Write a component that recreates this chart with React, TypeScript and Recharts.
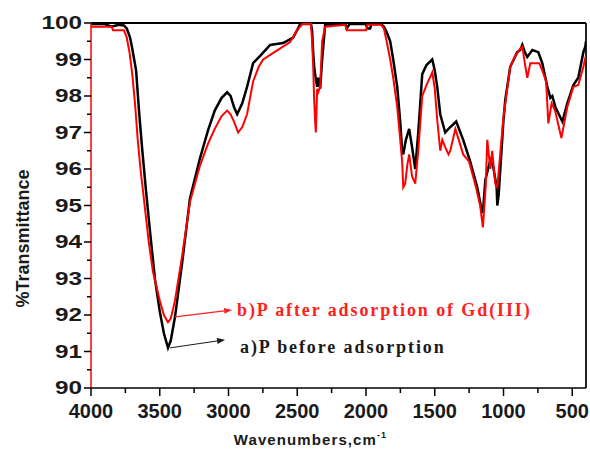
import React from "react";
import { LineChart, Line, XAxis, YAxis, ReferenceLine } from "recharts";

// ---- data ----
const blackWn = [
  4000, 3900, 3850, 3800, 3760, 3740, 3716, 3700, 3672, 3651,
  3629, 3600, 3571, 3534, 3500, 3470, 3440, 3420, 3389, 3338,
  3280, 3207, 3148, 3100, 3050, 3010, 2985, 2960, 2937, 2900,
  2865, 2821, 2770, 2697, 2603, 2530, 2493, 2479, 2400, 2392,
  2384, 2377, 2370, 2362, 2355, 2348, 2340, 2333, 2319, 2297,
  2150, 2140, 2120, 2000, 1990, 1970, 1960, 1890, 1870, 1850,
  1824, 1802, 1773, 1751, 1737, 1729, 1710, 1686, 1665, 1642,
  1620, 1591, 1560, 1518, 1500, 1482, 1460, 1424, 1400, 1344,
  1293, 1242, 1191, 1160, 1150, 1132, 1096, 1074, 1050, 1045,
  1035, 1001, 987, 951, 900, 878, 863, 845, 827, 790,
  747, 718, 681, 659, 645, 623, 572, 536, 492, 456,
  419, 405, 400,
];
const blackT = [
  99.97, 99.97, 99.9, 99.95, 99.93, 99.85, 99.6, 99.3, 98.7, 97.6,
  96.6, 95.4, 94.3, 92.96, 92.1, 91.5, 91.1, 91.3, 91.95, 93.4,
  95.2, 96.3, 97.07, 97.6, 97.95, 98.1, 98.0, 97.7, 97.5, 97.8,
  98.25, 98.9, 99.1, 99.4, 99.45, 99.6, 99.86, 99.97, 99.97, 99.8,
  99.2, 98.8, 98.6, 98.4, 98.25, 98.5, 98.4, 98.2, 99.0, 99.95,
  99.97, 99.85, 99.97, 99.97, 99.85, 99.85, 99.97, 99.97, 99.9, 99.75,
  99.5, 99.0, 98.25, 97.3, 96.5, 96.4, 96.8, 97.1, 96.6, 96.0,
  97.0, 98.6, 98.85, 99.0, 98.7, 98.25, 97.5, 97.0, 97.1, 97.3,
  96.8, 96.2, 95.5, 94.9, 94.8, 95.7, 96.25, 96.05, 95.5, 95.0,
  95.3, 97.3, 97.9, 98.8, 99.2, 99.26, 99.4, 99.2, 99.07, 99.26,
  99.2, 98.9, 98.25, 97.95, 98.0, 97.7, 97.3, 97.8, 98.3, 98.5,
  99.2, 99.35, 99.5,
];

const redWn = [
  4000, 3850, 3840, 3760, 3740, 3720, 3700, 3680, 3660, 3640,
  3610, 3580, 3550, 3500, 3470, 3440, 3420, 3389, 3338, 3280,
  3207, 3148, 3100, 3050, 3010, 2985, 2960, 2930, 2900, 2865,
  2821, 2780, 2748, 2646, 2552, 2501, 2464, 2400, 2392, 2384,
  2377, 2370, 2365, 2360, 2355, 2348, 2333, 2319, 2297, 2150,
  2140, 2000, 1990, 1890, 1870, 1850, 1824, 1802, 1773, 1751,
  1737, 1729, 1715, 1700, 1686, 1665, 1642, 1620, 1591, 1560,
  1518, 1500, 1482, 1460, 1445, 1424, 1400, 1387, 1350, 1293,
  1250, 1200, 1170, 1150, 1130, 1118, 1096, 1082, 1060, 1045,
  1038, 1001, 951, 914, 878, 863, 845, 827, 805, 740,
  718, 690, 674, 650, 625, 579, 536, 492, 456, 419,
  405, 400,
];
const redT = [
  99.9, 99.9, 99.8, 99.8, 99.6, 99.2, 98.6, 97.8, 96.8, 96.0,
  95.0, 94.0, 93.2, 92.4, 92.0, 91.8, 91.9, 92.4, 93.6, 95.1,
  96.1, 96.7, 97.1, 97.45, 97.6, 97.5, 97.3, 97.0, 97.15, 97.5,
  98.4, 98.8, 99.0, 99.25, 99.48, 99.8, 99.97, 99.97, 99.5, 98.8,
  97.9, 97.3, 97.0, 97.6, 98.2, 98.1, 98.25, 99.5, 99.9, 99.95,
  99.8, 99.8, 99.95, 99.95, 99.85, 99.5, 99.0, 98.5, 97.7, 96.8,
  96.2, 95.5, 95.6, 96.1, 96.4, 95.8, 95.6, 96.5, 98.0, 98.3,
  98.65, 98.2, 97.35, 96.5, 96.8, 96.6, 96.4, 96.5, 97.1, 96.4,
  96.2, 95.5, 95.0, 94.4, 95.5, 96.8, 96.0, 96.5, 95.6, 95.5,
  95.8, 97.4, 98.8, 99.1, 99.3, 99.35, 98.9, 98.5, 98.9, 98.9,
  98.7, 98.4, 97.25, 97.8, 97.6, 96.85, 97.7, 98.25, 98.3, 98.8,
  99.04, 99.1,
];

const xMajorTicks = [4000, 3500, 3000, 2500, 2000, 1500, 1000, 500];
const xAllTicks = [4000, 3750, 3500, 3250, 3000, 2750, 2500, 2250, 2000, 1750, 1500, 1250, 1000, 750, 500];
const yMajorTicks = [90, 91, 92, 93, 94, 95, 96, 97, 98, 99, 100];
const yAllTicks = [90, 90.5, 91, 91.5, 92, 92.5, 93, 93.5, 94, 94.5, 95, 95.5, 96, 96.5, 97, 97.5, 98, 98.5, 99, 99.5, 100];

const redLabel = "b)P after adsorption of Gd(III)";
const blackLabel = "a)P before adsorption";
const redArrow = [{ x: 3389, y: 91.95 }, { x: 2974, y: 92.14 }];
const blackArrow = [{ x: 3425, y: 91.1 }, { x: 3025, y: 91.32 }];

const blackData = blackWn.map((wn, i) => ({ wn, t: blackT[i] }));
const redData = redWn.map((wn, i) => ({ wn, t: redT[i] }));

const SANS = "'Liberation Sans', Arial, sans-serif";
const SERIF = "'Liberation Serif', 'Times New Roman', serif";

const XTick = (props: any) => {
  const { x, y, payload } = props;
  const major = xMajorTicks.includes(payload.value);
  return (
    <g>
      <line x1={x} y1={y} x2={x} y2={y + (major ? 8 : 5)} stroke="#000" strokeWidth={1.5} />
      {major && (
        <text x={x} y={y + 16} dy="0.71em" textAnchor="middle" fontSize={20} fontWeight="bold" fontFamily={SANS} fill="#1a1a1a">
          {payload.value}
        </text>
      )}
    </g>
  );
};

const YTick = (props: any) => {
  const { x, y, payload } = props;
  const major = yMajorTicks.includes(payload.value);
  return (
    <g>
      <line x1={x - (major ? 7 : 4)} y1={y} x2={x} y2={y} stroke="#000" strokeWidth={1.5} />
      {major && (
        <g transform={`translate(${x - 9},${y})`}>
          <text transform="scale(1.35,1)" dy="0.36em" textAnchor="end" fontSize={18} fontWeight="bold" fontFamily={SANS} fill="#1a1a1a">
            {payload.value}
          </text>
        </g>
      )}
    </g>
  );
};

const arrowShape = (color: string, text: string, gap: number, dyText: number, width: number) => (p: any) => {
  const { x1, y1, x2, y2 } = p;
  if ([x1, y1, x2, y2].some((v) => typeof v !== "number" || isNaN(v))) return <g />;
  const ang = Math.atan2(y2 - y1, x2 - x1);
  const L = 8, W = 3;
  const bx = x2 - L * Math.cos(ang), by = y2 - L * Math.sin(ang);
  const px = -Math.sin(ang) * W, py = Math.cos(ang) * W;
  return (
    <g>
      <line x1={x1} y1={y1} x2={bx} y2={by} stroke={color} strokeWidth={width} />
      <polygon points={`${x2},${y2} ${bx + px},${by + py} ${bx - px},${by - py}`} fill={color} />
      <text x={x2 + gap} y={y2 + dyText} dy="0.35em" fontSize={18} fontWeight="bold" fontFamily={SERIF} letterSpacing={1.9} fill={color}>
        {text}
      </text>
    </g>
  );
};

export default function App() {
  return (
    <div style={{ position: "fixed", left: 0, top: 0, width: 590, height: 453, background: "#fff" }}>
      <LineChart width={590} height={453} margin={{ top: 23, right: 4, left: 8, bottom: 0 }}>
        <XAxis
          dataKey="wn"
          type="number"
          domain={[400, 4000]}
          reversed
          allowDataOverflow
          ticks={xAllTicks}
          interval={0}
          tickSize={0}
          tickMargin={0}
          tickLine={false}
          tick={<XTick />}
          height={65}
          axisLine={{ stroke: "#000", strokeWidth: 1.5 }}
          label={{
            content: (lp: any) => {
              const vb = lp.viewBox || { x: 91, y: 388, width: 495, height: 65 };
              return (
                <text x={vb.x + vb.width / 2 - 28} y={vb.y + 57} textAnchor="middle" fontSize={15} fontWeight="bold" fontFamily={SANS} letterSpacing={1.1} fill="#1a1a1a">
                  Wavenumbers,cm
                  <tspan dy={-7} fontSize={9}>-1</tspan>
                </text>
              );
            },
          }}
        />
        <YAxis
          type="number"
          domain={[90, 100]}
          allowDataOverflow
          ticks={yAllTicks}
          interval={0}
          tickSize={0}
          tickMargin={0}
          tickLine={false}
          tick={<YTick />}
          width={83}
          axisLine={{ stroke: "#ff0000", strokeWidth: 1.5 }}
          label={{
            content: (lp: any) => {
              const vb = lp.viewBox || { x: 8, y: 23, width: 83, height: 365 };
              const cx = vb.x + 15;
              const cy = vb.y + vb.height / 2 + 33;
              return (
                <text x={cx} y={cy} transform={`rotate(-90 ${cx} ${cy})`} dy="0.35em" textAnchor="middle" fontSize={18} fontWeight="bold" fontFamily={SANS} fill="#1a1a1a">
                  %Transmittance
                </text>
              );
            },
          }}
        />
        <ReferenceLine y={100} stroke="#000" strokeWidth={2} />
        <ReferenceLine x={400} stroke="#222" strokeWidth={2} />
        <Line data={blackData} dataKey="t" stroke="#000000" strokeWidth={2.5} dot={false} isAnimationActive={false} type="linear" />
        <Line data={redData} dataKey="t" stroke="#ff0000" strokeWidth={2} dot={false} isAnimationActive={false} type="linear" />
        <ReferenceLine segment={redArrow} stroke="#ff4040" shape={arrowShape("#ff2020", redLabel, 5, 0, 1.2)} />
        <ReferenceLine segment={blackArrow} stroke="#333" shape={arrowShape("#1a1a1a", blackLabel, 15, 7, 1)} />
      </LineChart>
    </div>
  );
}
